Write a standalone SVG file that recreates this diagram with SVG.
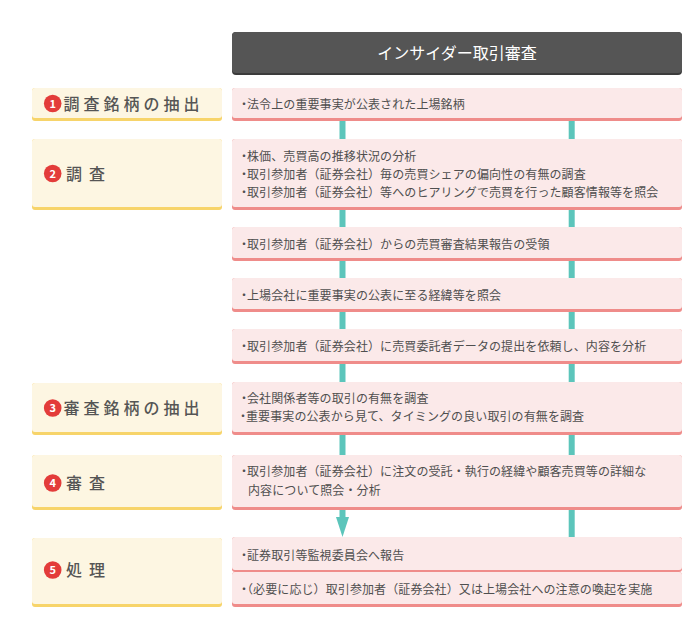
<svg xmlns="http://www.w3.org/2000/svg" width="696" height="623" viewBox="0 0 696 623">
<style>
text{font-family:"Noto Sans CJK JP","Noto Sans",sans-serif;}
.title{font-size:16px;fill:#ffffff;text-anchor:middle;}
.t{font-size:12px;fill:#4f4f4f;letter-spacing:0.1px;}
.b{letter-spacing:-3px;}
.lab{font-size:16px;fill:#555555;font-weight:500;}
.num{font-size:11px;font-weight:bold;fill:#ffffff;text-anchor:middle;}
.pk{fill:#fbe9e9;}
.pkb{fill:#ef8c8a;}
.yl{fill:#fdf6e2;}
.ylb{fill:#f7d46a;}
.bd{fill:#e33c3a;}
.ln{fill:#5cc5bb;}
</style>
<g id="connectors">
<rect class="ln" x="339.5" y="119" width="6" height="21"/>
<rect class="ln" x="568.7" y="119" width="6" height="21"/>
<rect class="ln" x="339.5" y="208" width="6" height="20"/>
<rect class="ln" x="568.7" y="208" width="6" height="20"/>
<rect class="ln" x="339.5" y="259" width="6" height="20"/>
<rect class="ln" x="568.7" y="259" width="6" height="20"/>
<rect class="ln" x="339.5" y="310" width="6" height="20"/>
<rect class="ln" x="568.7" y="310" width="6" height="20"/>
<rect class="ln" x="339.5" y="362" width="6" height="21"/>
<rect class="ln" x="568.7" y="362" width="6" height="21"/>
<rect class="ln" x="339.5" y="433" width="6" height="23"/>
<rect class="ln" x="568.7" y="433" width="6" height="23"/>
<rect class="ln" x="339.5" y="508" width="6" height="10"/>
<polygon class="ln" points="336,517 349,517 342.5,537"/>
<rect class="ln" x="568.7" y="508" width="6" height="30"/>
</g>
<g id="title">
<rect x="232" y="32" width="450" height="43" rx="4" fill="#3b3b3b"/>
<rect x="232" y="32" width="450" height="41" rx="4" fill="#555555"/>
<text class="title" x="457" y="59">インサイダー取引審査</text>
</g>
<g id="label1">
<rect class="ylb" x="32" y="88" width="190" height="33" rx="3"/>
<rect class="yl" x="32" y="88" width="190" height="30" rx="3"/>
<circle class="bd" cx="52.7" cy="103.5" r="8.8"/>
<text class="num" x="52.7" y="107.5">1</text>
<text class="lab" x="63.5" y="109.5" textLength="136" lengthAdjust="spacing">調査銘柄の抽出</text>
</g>
<g id="label2">
<rect class="ylb" x="32" y="139" width="190" height="71" rx="3"/>
<rect class="yl" x="32" y="139" width="190" height="68" rx="3"/>
<circle class="bd" cx="52.7" cy="173.5" r="8.8"/>
<text class="num" x="52.7" y="177.5">2</text>
<text class="lab" x="66 82 89" y="179.5">調 査</text>
</g>
<g id="label3">
<rect class="ylb" x="32" y="383" width="190" height="52" rx="3"/>
<rect class="yl" x="32" y="383" width="190" height="49" rx="3"/>
<circle class="bd" cx="52.7" cy="408" r="8.8"/>
<text class="num" x="52.7" y="412">3</text>
<text class="lab" x="63.5" y="414" textLength="136" lengthAdjust="spacing">審査銘柄の抽出</text>
</g>
<g id="label4">
<rect class="ylb" x="32" y="455" width="190" height="55" rx="3"/>
<rect class="yl" x="32" y="455" width="190" height="52" rx="3"/>
<circle class="bd" cx="52.7" cy="483" r="8.8"/>
<text class="num" x="52.7" y="487">4</text>
<text class="lab" x="66 82 89" y="489">審 査</text>
</g>
<g id="label5">
<rect class="ylb" x="32" y="538" width="190" height="69" rx="3"/>
<rect class="yl" x="32" y="538" width="190" height="66" rx="3"/>
<circle class="bd" cx="52.7" cy="570" r="8.8"/>
<text class="num" x="52.7" y="574">5</text>
<text class="lab" x="66 82 89" y="576">処 理</text>
</g>
<g id="box1">
<rect class="pkb" x="232" y="88" width="450" height="33" rx="3"/>
<rect class="pk" x="232" y="88" width="450" height="30" rx="3"/>
<text class="t" x="238" y="108.5"><tspan class="b">・</tspan>法令上の重要事実が公表された上場銘柄</text>
</g>
<g id="box2">
<rect class="pkb" x="232" y="139" width="450" height="71" rx="3"/>
<rect class="pk" x="232" y="139" width="450" height="68" rx="3"/>
<text class="t" x="238" y="160.5"><tspan class="b">・</tspan>株価、売買高の推移状況の分析</text>
<text class="t" x="238" y="178.5"><tspan class="b">・</tspan>取引参加者（証券会社）毎の売買シェアの偏向性の有無の調査</text>
<text class="t" x="238" y="196.5"><tspan class="b">・</tspan>取引参加者（証券会社）等へのヒアリングで売買を行った顧客情報等を照会</text>
</g>
<g id="box3">
<rect class="pkb" x="232" y="227" width="450" height="34" rx="3"/>
<rect class="pk" x="232" y="227" width="450" height="31" rx="3"/>
<text class="t" x="238" y="248.5"><tspan class="b">・</tspan>取引参加者（証券会社）からの売買審査結果報告の受領</text>
</g>
<g id="box4">
<rect class="pkb" x="232" y="278" width="450" height="34" rx="3"/>
<rect class="pk" x="232" y="278" width="450" height="31" rx="3"/>
<text class="t" x="238" y="299.5"><tspan class="b">・</tspan>上場会社に重要事実の公表に至る経緯等を照会</text>
</g>
<g id="box5">
<rect class="pkb" x="232" y="329" width="450" height="35" rx="3"/>
<rect class="pk" x="232" y="329" width="450" height="32" rx="3"/>
<text class="t" x="238" y="350.5"><tspan class="b">・</tspan>取引参加者（証券会社）に売買委託者データの提出を依頼し、内容を分析</text>
</g>
<g id="box6">
<rect class="pkb" x="232" y="382" width="450" height="53" rx="3"/>
<rect class="pk" x="232" y="382" width="450" height="50" rx="3"/>
<text class="t" x="238" y="403"><tspan class="b">・</tspan>会社関係者等の取引の有無を調査</text>
<text class="t" x="237" y="421"><tspan class="b">・</tspan>重要事実の公表から見て、タイミングの良い取引の有無を調査</text>
</g>
<g id="box7">
<rect class="pkb" x="232" y="455" width="450" height="55" rx="3"/>
<rect class="pk" x="232" y="455" width="450" height="52" rx="3"/>
<text class="t" x="238" y="476"><tspan class="b">・</tspan>取引参加者（証券会社）に注文の受託・執行の経緯や顧客売買等の詳細な</text>
<text class="t" x="248" y="494.5">内容について照会・分析</text>
</g>
<g id="box8">
<rect class="pkb" x="232" y="537" width="450" height="35" rx="3"/>
<rect class="pk" x="232" y="537" width="450" height="33" rx="3"/>
<text class="t" x="238" y="559.5"><tspan class="b">・</tspan>証券取引等監視委員会へ報告</text>
</g>
<g id="box9">
<rect class="pkb" x="232" y="572" width="450" height="35" rx="3"/>
<rect class="pk" x="232" y="572" width="450" height="32" rx="3"/>
<text class="t" x="238" y="593.5"><tspan class="b">・</tspan>（必要に応じ）取引参加者（証券会社）又は上場会社への注意の喚起を実施</text>
</g>
</svg>
